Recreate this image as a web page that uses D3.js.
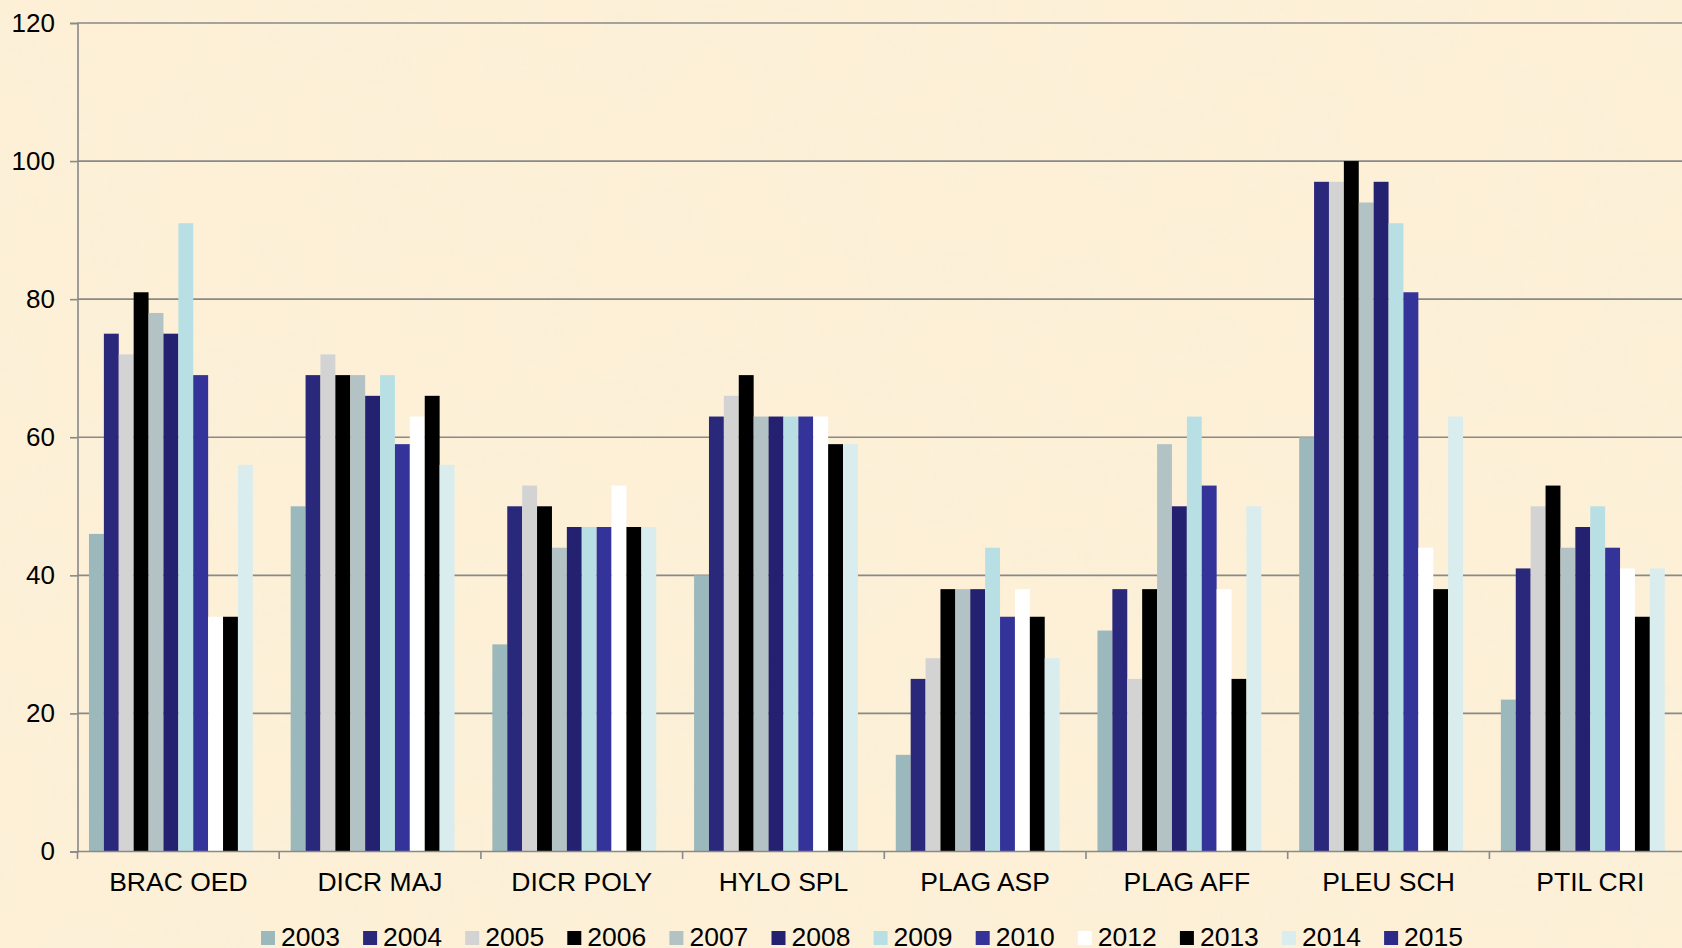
<!DOCTYPE html>
<html>
<head>
<meta charset="utf-8">
<script src="https://cdn.jsdelivr.net/npm/d3@7"></script>
<style>
  html, body { margin: 0; padding: 0; background: #fcefd5; overflow: hidden; }
  svg { display: block; }
  text { font-family: "Liberation Sans", Arial, sans-serif; fill: #000; }
</style>
</head>
<body>
<svg id="chart" width="1682" height="948"></svg>
<script>
// ---- data ----
const categories = ["BRAC OED", "DICR MAJ", "DICR POLY", "HYLO SPL", "PLAG ASP", "PLAG AFF", "PLEU SCH", "PTIL CRI"];
const years = ["2003", "2004", "2005", "2006", "2007", "2008", "2009", "2010", "2012", "2013", "2014", "2015"];
const s2003 = [46, 50, 30, 40, 14, 32, 60, 22];
const s2004 = [75, 69, 50, 63, 25, 38, 97, 41];
const s2005 = [72, 72, 53, 66, 28, 25, 97, 50];
const s2006 = [81, 69, 50, 69, 38, 38, 100, 53];
const s2007 = [78, 69, 44, 63, 38, 59, 94, 44];
const s2008 = [75, 66, 47, 63, 38, 50, 97, 47];
const s2009 = [91, 69, 47, 63, 44, 63, 91, 50];
const s2010 = [69, 59, 47, 63, 34, 53, 81, 44];
const s2012 = [34, 63, 53, 63, 38, 38, 44, 41];
const s2013 = [34, 66, 47, 59, 34, 25, 38, 34];
const s2014 = [56, 56, 47, 59, 28, 50, 63, 41];
const s2015 = [null, null, null, null, null, null, null, null];
const yTicks = [0, 20, 40, 60, 80, 100, 120];
const colors = ["#9bb8bc", "#29287b", "#d3d3d3", "#000000", "#b3c3c5", "#232170", "#b8e0e4", "#343399", "#ffffff", "#000000", "#d9edef", "#2d2b8a"];

const seriesValues = [s2003, s2004, s2005, s2006, s2007, s2008, s2009, s2010, s2012, s2013, s2014, s2015];
const series = years.map((y, i) => ({ year: y, color: colors[i], values: seriesValues[i] }));

// ---- layout ----
const svg = d3.select("#chart");
const W = 1682, H = 948;
const left = 77.5, bandW = 201.7;
const right = left + bandW * categories.length;
const yTop = 23, yBottom = 851.5;

// background with subtle parchment texture
const defs = svg.append("defs");
const f = defs.append("filter").attr("id", "parch").attr("x", 0).attr("y", 0).attr("width", "100%").attr("height", "100%");
f.append("feTurbulence").attr("type", "fractalNoise").attr("baseFrequency", "0.012").attr("numOctaves", 4).attr("seed", 7).attr("result", "n");
f.append("feColorMatrix").attr("type", "matrix")
  .attr("values", "0 0 0 0 0.93  0 0 0 0 0.86  0 0 0 0 0.70  0 0 0 -1.6 0.95");
svg.append("rect").attr("width", W).attr("height", H).attr("fill", "#fdf0d7");
svg.append("rect").attr("width", W).attr("height", H).attr("filter", "url(#parch)").attr("opacity", 0.5);

const x0 = d3.scaleBand().domain(categories).range([left, right]).padding(0);
const x1 = d3.scaleBand().domain(years).range([0, x0.bandwidth()]).paddingInner(0).paddingOuter(0.77);
const y = d3.scaleLinear().domain([0, 120]).range([yBottom, yTop]);

// gridlines
svg.append("g")
  .selectAll("line").data(yTicks.filter(d => d > 0)).join("line")
  .attr("x1", left).attr("x2", right)
  .attr("y1", d => y(d)).attr("y2", d => y(d))
  .attr("stroke", "#898989").attr("stroke-width", 1.6);

// bars
const groups = svg.append("g").selectAll("g").data(series).join("g").attr("fill", d => d.color);
groups.selectAll("rect")
  .data(d => d.values.map((v, i) => ({ cat: categories[i], year: d.year, v })).filter(o => o.v != null))
  .join("rect")
  .attr("x", d => x0(d.cat) + x1(d.year))
  .attr("width", x1.bandwidth())
  .attr("y", d => y(d.v))
  .attr("height", d => y(0) - y(d.v));

// y axis
const yAxis = svg.append("g").attr("transform", `translate(${left},0)`)
  .call(d3.axisLeft(y).tickValues(yTicks).tickSize(7.5).tickPadding(15).tickFormat(d3.format("d")));
yAxis.select(".domain").attr("stroke", "#898989").attr("stroke-width", 1.6);
yAxis.selectAll(".tick line").attr("stroke", "#898989").attr("stroke-width", 1.6);
yAxis.selectAll(".tick text").style("font-size", "26px").style("font-family", "'Liberation Sans', Arial, sans-serif").attr("fill", "#000");

// x axis
const xAxis = svg.append("g").attr("transform", `translate(0,${yBottom})`)
  .call(d3.axisBottom(x0).tickSize(0).tickPadding(21));
xAxis.select(".domain").remove();
xAxis.selectAll(".tick text").style("font-size", "26.5px").style("font-family", "'Liberation Sans', Arial, sans-serif").attr("fill", "#000");
svg.append("line").attr("x1", left).attr("x2", right).attr("y1", yBottom).attr("y2", yBottom)
  .attr("stroke", "#898989").attr("stroke-width", 1.6);
const bounds = categories.map(c => x0(c)).concat([right]);
svg.append("g").selectAll("line").data(bounds).join("line")
  .attr("x1", d => d).attr("x2", d => d).attr("y1", yBottom).attr("y2", yBottom + 7.5)
  .attr("stroke", "#898989").attr("stroke-width", 1.6);

// legend
const legend = svg.append("g").selectAll("g").data(series).join("g")
  .attr("transform", (d, i) => `translate(${261 + i * 102.1},0)`);
legend.append("rect").attr("x", 0).attr("y", 931).attr("width", 14).attr("height", 14).attr("fill", d => d.color);
legend.append("text").attr("x", 20).attr("y", 945.5).style("font-size", "26.5px").text(d => d.year);
</script>
</body>
</html>
